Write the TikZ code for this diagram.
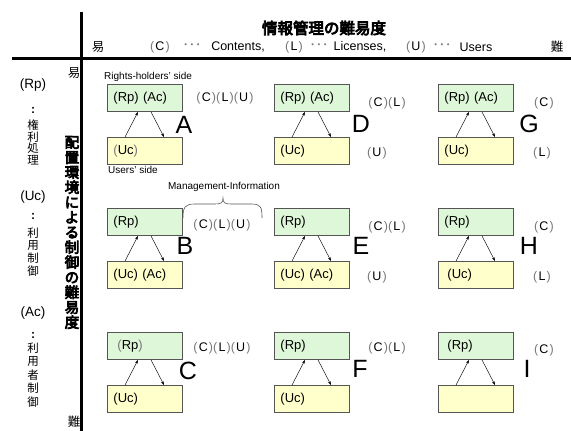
\documentclass[tikz,border=0pt]{standalone}
\usepackage{fontspec}
\setmainfont{Liberation Sans}
\newfontfamily\cjk{Noto Sans CJK JP}
\newfontfamily\cjkheavy{Noto Sans CJK JP}[FakeBold=5]
\usetikzlibrary{arrows.meta}
\definecolor{gfill}{RGB}{223,247,217}
\definecolor{yfill}{RGB}{255,255,204}
\definecolor{bord}{RGB}{85,85,85}
\definecolor{pgray}{RGB}{120,120,120}
\newcommand{\gp}[1]{{\color{pgray}(}#1{\color{pgray})}}
\newcommand{\lab}[1]{{\color{pgray}(}\hspace{1.2pt}#1\hspace{1.2pt}{\color{pgray})}}
\newcommand{\dotsj}{{\cjk\color{pgray}･･･}}
\tikzset{
  box/.style={draw=bord, line width=0.9pt, minimum width=75pt, minimum height=27pt,
    inner xsep=6pt, text width=63pt, align=left, anchor=north west,
    font=\fontsize{13}{15}\selectfont},
  gbox/.style={box, fill=gfill},
  ybox/.style={box, fill=yfill},
  arr/.style={-{Stealth[length=4pt,width=2.6pt]}, line width=0.45pt},
  big/.style={font=\fontsize{25}{28}\selectfont, inner sep=0pt},
  lbl/.style={font=\fontsize{12.5}{14}\selectfont, inner sep=0pt},
  small/.style={font=\fontsize{10}{12}\selectfont, inner sep=0pt, anchor=west},
  hdr/.style={font=\fontsize{12.5}{14}\selectfont, inner sep=0pt},
  cjkv/.style={align=center, inner sep=0pt},
  thick line/.style={line width=3pt, black},
}
\begin{document}
\begin{tikzpicture}[x=1pt,y=-1pt]
\useasboundingbox (0,0) rectangle (571,431);

% axes
\coordinate (vtop) at (81,12);
\coordinate (vbot) at (81,431);
\coordinate (hl) at (12,58.5);
\coordinate (hr) at (571,58.5);
\draw[thick line] (vtop) -- (vbot);
\draw[thick line] (hl) -- (hr);

% header
\node[font=\cjkheavy\fontsize{15.5}{17}\selectfont, inner sep=0pt] (title) at (324,28) {情報管理の難易度};
\node[hdr, font=\cjk\fontsize{12.5}{14}\selectfont] (heasy) at (98,47) {易};
\node[hdr] (hC) at (160,47) {\lab{C}};
\node[hdr] (hd1) at (192,47) {\dotsj};
\node[hdr] (hCt) at (238,47) {Contents,};
\node[hdr] (hL) at (294,47) {\lab{L}};
\node[hdr] (hd2) at (319,47) {\dotsj};
\node[hdr] (hLt) at (360,47) {Licenses,};
\node[hdr] (hU) at (416,47) {\lab{U}};
\node[hdr] (hd3) at (442,47) {\dotsj};
\node[hdr] (hUt) at (476,47) {Users};
\node[hdr, font=\cjk\fontsize{12.5}{14}\selectfont] (hhard) at (557,47) {難};

% left side
\node[font=\cjk\fontsize{12.5}{14}\selectfont, inner sep=0pt] (veasy) at (74,73) {易};
\node[font=\cjk\fontsize{12.5}{14}\selectfont, inner sep=0pt] (vhard) at (74,422) {難};
\node[font=\cjkheavy\fontsize{14.5}{15}\selectfont, cjkv] (vtitle) at (72,232.5)
  {配\\置\\環\\境\\に\\よ\\る\\制\\御\\の\\難\\易\\度};

\node[lbl, font=\fontsize{13.5}{15}\selectfont] (lRp) at (33,85) {(Rp)};
\node[font=\bfseries\fontsize{12}{14}\selectfont, inner sep=0pt] (c1) at (33,110) {:};
\node[font=\cjk\fontsize{11.5}{11.8}\selectfont, cjkv] (j1) at (33,142.5) {権\\利\\処\\理};
\node[lbl, font=\fontsize{13.5}{15}\selectfont] (lUc) at (33,197) {(Uc)};
\node[font=\bfseries\fontsize{12}{14}\selectfont, inner sep=0pt] (c2) at (33,216) {:};
\node[font=\cjk\fontsize{11.5}{12.8}\selectfont, cjkv] (j2) at (33,252) {利\\用\\制\\御};
\node[lbl, font=\fontsize{13.5}{15}\selectfont] (lAc) at (33,313) {(Ac)};
\node[font=\bfseries\fontsize{12}{14}\selectfont, inner sep=0pt] (c3) at (33,335) {:};
\node[font=\cjk\fontsize{11.5}{13.5}\selectfont, cjkv] (j3) at (33,375) {利\\用\\者\\制\\御};

% boxes
\foreach \n/\x/\y/\gt/\yt in {
  A/107/84/{(Rp) (Ac)}/{\gp{Uc}},
  D/274/84/{(Rp) (Ac)}/{(Uc)},
  G/438/84/{(Rp) (Ac)}/{(Uc)},
  B/107/208/{(Rp)}/{(Uc) (Ac)},
  E/274/208/{(Rp)}/{(Uc) (Ac)},
  H/438/208/{(Rp)}/{\hspace{3pt}(Uc)},
  C/107/332/{\hspace{4pt}\gp{Rp}}/{(Uc)},
  F/274/332/{(Rp)}/{(Uc)},
  I/438/332/{\hspace{3pt}(Rp)}/{}}
{
  \node[gbox] (g\n) at (\x,\y) {\gt};
  \node[ybox] (y\n) at (\x,\y+53) {\yt};
  \draw[arr] ([xshift=18pt]y\n.north west) -- ([xshift=31pt]g\n.south west);
  \draw[arr] ([xshift=44pt]g\n.south west) -- ([xshift=57pt]y\n.north west);
}

% letters
\node[big] (LA) at (184,125) {A};
\node[big] (LD) at (361,124) {D};
\node[big] (LG) at (529,124) {G};
\node[big] (LB) at (185,246) {B};
\node[big] (LE) at (361,246) {E};
\node[big] (LH) at (529,246) {H};
\node[big] (LC) at (188,371) {C};
\node[big] (LF) at (360,369) {F};
\node[big] (LI) at (527,369) {I};

% labels
\node[lbl] (kA) at (225,98) {\lab{C}\lab{L}\lab{U}};
\node[lbl] (kD1) at (387,103) {\lab{C}\lab{L}};
\node[lbl] (kD2) at (377,153) {\lab{U}};
\node[lbl] (kG1) at (544,103) {\lab{C}};
\node[lbl] (kG2) at (542,153) {\lab{L}};
\node[lbl] (kB) at (222,225) {\lab{C}\lab{L}\lab{U}};
\node[lbl] (kE1) at (387,227) {\lab{C}\lab{L}};
\node[lbl] (kE2) at (377,277) {\lab{U}};
\node[lbl] (kH1) at (544,227) {\lab{C}};
\node[lbl] (kH2) at (542,277) {\lab{L}};
\node[lbl] (kC) at (222,348) {\lab{C}\lab{L}\lab{U}};
\node[lbl] (kF) at (387,348) {\lab{C}\lab{L}};
\node[lbl] (kI) at (544,350) {\lab{C}};

% side texts
\node[small] (rh) at (104,77) {Rights-holders' side};
\node[small] (us) at (108,170) {Users' side};
\node[small, anchor=center] (mi) at (224,187) {Management-Information};

% brace
\draw[bord, line width=0.6pt] (183,218) .. controls (183,207) and (185,204) .. (195,204)
  -- (215,204) .. controls (221,204) and (223,203) .. (223,198)
  .. controls (223,203) and (225,204) .. (231,204)
  -- (251,204) .. controls (261,204) and (262,207) .. (262,218);
\end{tikzpicture}
\end{document}
